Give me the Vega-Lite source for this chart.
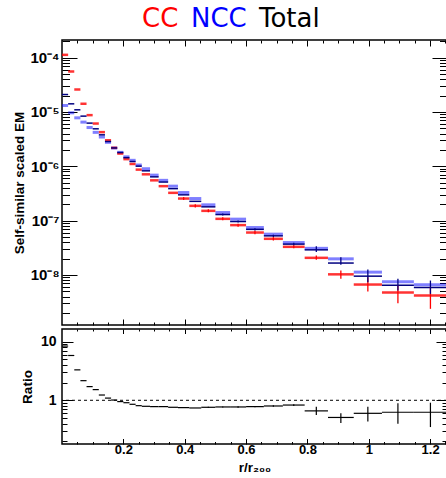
{
  "$schema": "https://vega.github.io/schema/vega-lite/v6.json",
  "padding": {"left": 11, "top": 6, "right": 0, "bottom": 0},
  "background": "white",
  "spacing": 0,
  "config": {
    "view": {"stroke": "black", "strokeWidth": 1.5},
    "axis": {"grid": false, "domain": false, "labelFont": "Liberation Sans", "labelFontWeight": "bold", "labelFontSize": 13, "labelColor": "black", "titleFont": "Liberation Sans", "titleFontWeight": "bold", "titleFontSize": 13.5, "titleColor": "black", "tickColor": "black", "tickWidth": 1, "labelOverlap": false, "labelFlush": false}
  },
  "datasets": {
    "hist": [
      {"bin":1,"x0":0,"x1":0.02,"xc":0.01,"series":"CC","v":1.12e-4},
      {"bin":2,"x0":0.02,"x1":0.04,"xc":0.03,"series":"CC","v":5.53e-5},
      {"bin":3,"x0":0.04,"x1":0.06,"xc":0.05,"series":"CC","v":2.58e-5},
      {"bin":4,"x0":0.06,"x1":0.08,"xc":0.07,"series":"CC","v":1.41e-5},
      {"bin":5,"x0":0.08,"x1":0.1,"xc":0.09,"series":"CC","v":8.71e-6},
      {"bin":6,"x0":0.1,"x1":0.12,"xc":0.11,"series":"CC","v":6.10e-6},
      {"bin":7,"x0":0.12,"x1":0.14,"xc":0.13,"series":"CC","v":4.24e-6},
      {"bin":8,"x0":0.14,"x1":0.16,"xc":0.15,"series":"CC","v":3.00e-6},
      {"bin":9,"x0":0.16,"x1":0.18,"xc":0.17,"series":"CC","v":2.18e-6},
      {"bin":10,"x0":0.18,"x1":0.2,"xc":0.19,"series":"CC","v":1.71e-6},
      {"bin":11,"x0":0.2,"x1":0.22,"xc":0.21,"series":"CC","v":1.35e-6},
      {"bin":12,"x0":0.22,"x1":0.24,"xc":0.23,"series":"CC","v":1.10e-6},
      {"bin":13,"x0":0.24,"x1":0.26,"xc":0.25,"series":"CC","v":8.66e-7},
      {"bin":14,"x0":0.26,"x1":0.287,"xc":0.2735,"series":"CC","v":7.10e-7},
      {"bin":15,"x0":0.287,"x1":0.315,"xc":0.301,"series":"CC","v":5.50e-7},
      {"bin":16,"x0":0.315,"x1":0.346,"xc":0.3305,"series":"CC","v":4.30e-7},
      {"bin":17,"x0":0.346,"x1":0.378,"xc":0.362,"series":"CC","v":3.24e-7},
      {"bin":18,"x0":0.378,"x1":0.415,"xc":0.3965,"series":"CC","v":2.545e-7,"lo":2.39e-7,"hi":2.71e-7},
      {"bin":19,"x0":0.415,"x1":0.454,"xc":0.4345,"series":"CC","v":1.868e-7,"lo":1.75e-7,"hi":1.99e-7},
      {"bin":20,"x0":0.454,"x1":0.5,"xc":0.477,"series":"CC","v":1.511e-7,"lo":1.42e-7,"hi":1.61e-7},
      {"bin":21,"x0":0.5,"x1":0.548,"xc":0.524,"series":"CC","v":1.077e-7,"lo":1.01e-7,"hi":1.15e-7},
      {"bin":22,"x0":0.548,"x1":0.6,"xc":0.574,"series":"CC","v":8.25e-8,"lo":7.74e-8,"hi":8.79e-8},
      {"bin":23,"x0":0.6,"x1":0.658,"xc":0.629,"series":"CC","v":6.03e-8,"lo":5.6e-8,"hi":6.5e-8},
      {"bin":24,"x0":0.658,"x1":0.72,"xc":0.689,"series":"CC","v":4.62e-8,"lo":4.3e-8,"hi":4.96e-8},
      {"bin":25,"x0":0.72,"x1":0.791,"xc":0.7555,"series":"CC","v":3.29e-8,"lo":3.09e-8,"hi":3.50e-8},
      {"bin":26,"x0":0.791,"x1":0.867,"xc":0.829,"series":"CC","v":2.064e-8,"lo":1.90e-8,"hi":2.28e-8},
      {"bin":27,"x0":0.867,"x1":0.951,"xc":0.909,"series":"CC","v":1.026e-8,"lo":8.48e-9,"hi":1.205e-8},
      {"bin":28,"x0":0.951,"x1":1.043,"xc":0.997,"series":"CC","v":6.66e-9,"lo":4.95e-9,"hi":9.11e-9},
      {"bin":29,"x0":1.043,"x1":1.147,"xc":1.095,"series":"CC","v":4.75e-9,"lo":3.03e-9,"hi":6.38e-9},
      {"bin":30,"x0":1.147,"x1":1.255,"xc":1.201,"series":"CC","v":4.18e-9,"lo":2.38e-9,"hi":5.96e-9},
      {"bin":1,"x0":0,"x1":0.02,"xc":0.01,"series":"NCC","v":1.309e-5},
      {"bin":2,"x0":0.02,"x1":0.04,"xc":0.03,"series":"NCC","v":9.61e-6},
      {"bin":3,"x0":0.04,"x1":0.06,"xc":0.05,"series":"NCC","v":7.77e-6},
      {"bin":4,"x0":0.06,"x1":0.08,"xc":0.07,"series":"NCC","v":6.48e-6},
      {"bin":5,"x0":0.08,"x1":0.1,"xc":0.09,"series":"NCC","v":5.15e-6},
      {"bin":6,"x0":0.1,"x1":0.12,"xc":0.11,"series":"NCC","v":4.20e-6},
      {"bin":7,"x0":0.12,"x1":0.14,"xc":0.13,"series":"NCC","v":3.446e-6},
      {"bin":8,"x0":0.14,"x1":0.16,"xc":0.15,"series":"NCC","v":2.752e-6},
      {"bin":9,"x0":0.16,"x1":0.18,"xc":0.17,"series":"NCC","v":2.162e-6},
      {"bin":10,"x0":0.18,"x1":0.2,"xc":0.19,"series":"NCC","v":1.801e-6},
      {"bin":11,"x0":0.2,"x1":0.22,"xc":0.21,"series":"NCC","v":1.489e-6},
      {"bin":12,"x0":0.22,"x1":0.24,"xc":0.23,"series":"NCC","v":1.284e-6},
      {"bin":13,"x0":0.24,"x1":0.26,"xc":0.25,"series":"NCC","v":1.052e-6},
      {"bin":14,"x0":0.26,"x1":0.287,"xc":0.2735,"series":"NCC","v":8.99e-7},
      {"bin":15,"x0":0.287,"x1":0.315,"xc":0.301,"series":"NCC","v":6.86e-7},
      {"bin":16,"x0":0.315,"x1":0.346,"xc":0.3305,"series":"NCC","v":5.50e-7},
      {"bin":17,"x0":0.346,"x1":0.378,"xc":0.362,"series":"NCC","v":4.30e-7},
      {"bin":18,"x0":0.378,"x1":0.415,"xc":0.3965,"series":"NCC","v":3.28e-7},
      {"bin":19,"x0":0.415,"x1":0.454,"xc":0.4345,"series":"NCC","v":2.545e-7},
      {"bin":20,"x0":0.454,"x1":0.5,"xc":0.477,"series":"NCC","v":1.949e-7},
      {"bin":21,"x0":0.5,"x1":0.548,"xc":0.524,"series":"NCC","v":1.406e-7},
      {"bin":22,"x0":0.548,"x1":0.6,"xc":0.574,"series":"NCC","v":1.063e-7},
      {"bin":23,"x0":0.6,"x1":0.658,"xc":0.629,"series":"NCC","v":7.45e-8},
      {"bin":24,"x0":0.658,"x1":0.72,"xc":0.689,"series":"NCC","v":5.63e-8},
      {"bin":25,"x0":0.72,"x1":0.791,"xc":0.7555,"series":"NCC","v":3.945e-8},
      {"bin":26,"x0":0.791,"x1":0.867,"xc":0.829,"series":"NCC","v":3.087e-8},
      {"bin":27,"x0":0.867,"x1":0.951,"xc":0.909,"series":"NCC","v":1.978e-8},
      {"bin":28,"x0":0.951,"x1":1.043,"xc":0.997,"series":"NCC","v":1.126e-8},
      {"bin":29,"x0":1.043,"x1":1.147,"xc":1.095,"series":"NCC","v":7.46e-9},
      {"bin":30,"x0":1.147,"x1":1.255,"xc":1.201,"series":"NCC","v":6.57e-9},
      {"bin":1,"x0":0,"x1":0.02,"xc":0.01,"series":"Total","v":2.085e-5},
      {"bin":2,"x0":0.02,"x1":0.04,"xc":0.03,"series":"Total","v":1.406e-5},
      {"bin":3,"x0":0.04,"x1":0.06,"xc":0.05,"series":"Total","v":1.091e-5},
      {"bin":4,"x0":0.06,"x1":0.08,"xc":0.07,"series":"Total","v":8.35e-6},
      {"bin":5,"x0":0.08,"x1":0.1,"xc":0.09,"series":"Total","v":6.21e-6},
      {"bin":6,"x0":0.1,"x1":0.12,"xc":0.11,"series":"Total","v":4.88e-6},
      {"bin":7,"x0":0.12,"x1":0.14,"xc":0.13,"series":"Total","v":3.78e-6},
      {"bin":8,"x0":0.14,"x1":0.16,"xc":0.15,"series":"Total","v":2.847e-6},
      {"bin":9,"x0":0.16,"x1":0.18,"xc":0.17,"series":"Total","v":2.171e-6},
      {"bin":10,"x0":0.18,"x1":0.2,"xc":0.19,"series":"Total","v":1.787e-6},
      {"bin":11,"x0":0.2,"x1":0.22,"xc":0.21,"series":"Total","v":1.439e-6},
      {"bin":12,"x0":0.22,"x1":0.24,"xc":0.23,"series":"Total","v":1.221e-6},
      {"bin":13,"x0":0.24,"x1":0.26,"xc":0.25,"series":"Total","v":1.004e-6},
      {"bin":14,"x0":0.26,"x1":0.287,"xc":0.2735,"series":"Total","v":8.23e-7},
      {"bin":15,"x0":0.287,"x1":0.315,"xc":0.301,"series":"Total","v":6.38e-7},
      {"bin":16,"x0":0.315,"x1":0.346,"xc":0.3305,"series":"Total","v":5.12e-7},
      {"bin":17,"x0":0.346,"x1":0.378,"xc":0.362,"series":"Total","v":3.87e-7},
      {"bin":18,"x0":0.378,"x1":0.415,"xc":0.3965,"series":"Total","v":2.977e-7},
      {"bin":19,"x0":0.415,"x1":0.454,"xc":0.4345,"series":"Total","v":2.26e-7},
      {"bin":20,"x0":0.454,"x1":0.5,"xc":0.477,"series":"Total","v":1.791e-7},
      {"bin":21,"x0":0.5,"x1":0.548,"xc":0.524,"series":"Total","v":1.292e-7,"lo":1.24e-7,"hi":1.35e-7},
      {"bin":22,"x0":0.548,"x1":0.6,"xc":0.574,"series":"Total","v":9.61e-8,"lo":9.2e-8,"hi":1.0e-7},
      {"bin":23,"x0":0.6,"x1":0.658,"xc":0.629,"series":"Total","v":6.90e-8,"lo":6.6e-8,"hi":7.2e-8},
      {"bin":24,"x0":0.658,"x1":0.72,"xc":0.689,"series":"Total","v":5.24e-8,"lo":5.0e-8,"hi":5.5e-8},
      {"bin":25,"x0":0.72,"x1":0.791,"xc":0.7555,"series":"Total","v":3.69e-8,"lo":3.5e-8,"hi":3.9e-8},
      {"bin":26,"x0":0.791,"x1":0.867,"xc":0.829,"series":"Total","v":2.896e-8,"lo":2.63e-8,"hi":3.39e-8},
      {"bin":27,"x0":0.867,"x1":0.951,"xc":0.909,"series":"Total","v":1.655e-8,"lo":1.534e-8,"hi":2.126e-8},
      {"bin":28,"x0":0.951,"x1":1.043,"xc":0.997,"series":"Total","v":9.50e-9,"lo":7.37e-9,"hi":1.258e-8},
      {"bin":29,"x0":1.043,"x1":1.147,"xc":1.095,"series":"Total","v":6.49e-9,"lo":5.16e-9,"hi":8.48e-9},
      {"bin":30,"x0":1.147,"x1":1.255,"xc":1.201,"series":"Total","v":5.86e-9,"lo":4.49e-9,"hi":7.89e-9}
    ],
    "ratio": [
      {"bin":1,"x0":0,"x1":0.02,"xc":0.01,"r":8.4},
      {"bin":2,"x0":0.02,"x1":0.04,"xc":0.03,"r":5.8},
      {"bin":3,"x0":0.04,"x1":0.06,"xc":0.05,"r":3.3},
      {"bin":4,"x0":0.06,"x1":0.08,"xc":0.07,"r":2.16},
      {"bin":5,"x0":0.08,"x1":0.1,"xc":0.09,"r":1.71},
      {"bin":6,"x0":0.1,"x1":0.12,"xc":0.11,"r":1.52},
      {"bin":7,"x0":0.12,"x1":0.14,"xc":0.13,"r":1.23},
      {"bin":8,"x0":0.14,"x1":0.16,"xc":0.15,"r":1.09},
      {"bin":9,"x0":0.16,"x1":0.18,"xc":0.17,"r":1.01},
      {"bin":10,"x0":0.18,"x1":0.2,"xc":0.19,"r":0.95},
      {"bin":11,"x0":0.2,"x1":0.22,"xc":0.21,"r":0.91},
      {"bin":12,"x0":0.22,"x1":0.24,"xc":0.23,"r":0.855},
      {"bin":13,"x0":0.24,"x1":0.26,"xc":0.25,"r":0.81},
      {"bin":14,"x0":0.26,"x1":0.287,"xc":0.2735,"r":0.79},
      {"bin":15,"x0":0.287,"x1":0.315,"xc":0.301,"r":0.78},
      {"bin":16,"x0":0.315,"x1":0.346,"xc":0.3305,"r":0.78},
      {"bin":17,"x0":0.346,"x1":0.378,"xc":0.362,"r":0.76},
      {"bin":18,"x0":0.378,"x1":0.415,"xc":0.3965,"r":0.75},
      {"bin":19,"x0":0.415,"x1":0.454,"xc":0.4345,"r":0.74},
      {"bin":20,"x0":0.454,"x1":0.5,"xc":0.477,"r":0.76,"rlo":0.745,"rhi":0.775},
      {"bin":21,"x0":0.5,"x1":0.548,"xc":0.524,"r":0.77,"rlo":0.755,"rhi":0.785},
      {"bin":22,"x0":0.548,"x1":0.6,"xc":0.574,"r":0.77,"rlo":0.75,"rhi":0.79},
      {"bin":23,"x0":0.6,"x1":0.658,"xc":0.629,"r":0.78,"rlo":0.76,"rhi":0.80},
      {"bin":24,"x0":0.658,"x1":0.72,"xc":0.689,"r":0.80,"rlo":0.78,"rhi":0.82},
      {"bin":25,"x0":0.72,"x1":0.791,"xc":0.7555,"r":0.83,"rlo":0.80,"rhi":0.86},
      {"bin":26,"x0":0.791,"x1":0.867,"xc":0.829,"r":0.66,"rlo":0.56,"rhi":0.78},
      {"bin":27,"x0":0.867,"x1":0.951,"xc":0.909,"r":0.51,"rlo":0.41,"rhi":0.60},
      {"bin":28,"x0":0.951,"x1":1.043,"xc":0.997,"r":0.60,"rlo":0.435,"rhi":0.78},
      {"bin":29,"x0":1.043,"x1":1.147,"xc":1.095,"r":0.625,"rlo":0.40,"rhi":0.89},
      {"bin":30,"x0":1.147,"x1":1.255,"xc":1.201,"r":0.625,"rlo":0.35,"rhi":0.91}
    ],
    "ref": [{"level": 1}]
  },
  "vconcat": [
    {
      "width": 385,
      "height": 285,
      "data": {"name": "hist"},
      "layer": [
        {
          "transform": [{"filter": "datum.series == 'NCC'"}],
          "mark": {"type": "rule", "strokeWidth": 3, "opacity": 0.5, "clip": true},
          "encoding": {
            "x": {"field": "x0", "type": "quantitative", "scale": {"domain": [0, 1.255], "nice": false, "zero": false},
                  "axis": {"orient": "bottom", "title": null, "labels": false,
                           "values": [0.05,0.1,0.15,0.2,0.25,0.3,0.35,0.4,0.45,0.5,0.55,0.6,0.65,0.7,0.75,0.8,0.85,0.9,0.95,1,1.05,1.1,1.15,1.2,1.25],
                           "tickSize": {"condition": {"test": "datum.value == 0.2 || datum.value == 0.4 || datum.value == 0.6 || datum.value == 0.8 || datum.value == 1 || datum.value == 1.2", "value": -6}, "value": -3}}},
            "x2": {"field": "x1"},
            "y": {"field": "v", "type": "quantitative", "scale": {"type": "log", "domain": [1.2e-9, 2.1e-4], "nice": false},
                  "axis": {"orient": "left", "title": "Self-similar scaled EM", "titleX": -38.5, "titleY": 142.5, "titleAngle": -90, "titleAlign": "center", "titleBaseline": "alphabetic",
                           "values": [2e-9,3e-9,4e-9,5e-9,6e-9,7e-9,8e-9,9e-9,1e-8,2e-8,3e-8,4e-8,5e-8,6e-8,7e-8,8e-8,9e-8,1e-7,2e-7,3e-7,4e-7,5e-7,6e-7,7e-7,8e-7,9e-7,1e-6,2e-6,3e-6,4e-6,5e-6,6e-6,7e-6,8e-6,9e-6,1e-5,2e-5,3e-5,4e-5,5e-5,6e-5,7e-5,8e-5,9e-5,1e-4,2e-4],
                           "labelFontSize": 15, "labelPadding": 18,
                           "labelExpr": "datum.value > 0.95e-4 && datum.value < 1.05e-4 ? '10⁻⁴' : datum.value > 0.95e-5 && datum.value < 1.05e-5 ? '10⁻⁵' : datum.value > 0.95e-6 && datum.value < 1.05e-6 ? '10⁻⁶' : datum.value > 0.95e-7 && datum.value < 1.05e-7 ? '10⁻⁷' : datum.value > 0.95e-8 && datum.value < 1.05e-8 ? '10⁻⁸' : ''",
                           "tickSize": {"condition": {"test": "abs(log(datum.value)/LN10 - round(log(datum.value)/LN10)) < 0.001", "value": -15}, "value": -7.5}}},
            "color": {"field": "series", "type": "nominal",
                      "scale": {"domain": ["CC", "NCC", "Total"], "range": ["#ff0000", "#0000ff", "#000080"]},
                      "legend": {"orient": "none", "legendX": 79, "legendY": -34, "direction": "horizontal", "title": null,
                                 "symbolType": "circle", "symbolOpacity": 0, "symbolSize": 0.01, "symbolStrokeWidth": 0, "labelOffset": -25, "columnPadding": 11, "padding": 0,
                                 "labelFont": "DejaVu Sans", "labelFontSize": 26, "labelColor": "black",
                                 "encode": {"labels": {"update": {"fill": {"signal": "datum.value === 'CC' ? '#ff0000' : datum.value === 'NCC' ? '#0000ff' : '#000000'"}}}}}}
          }
        },
        {
          "transform": [{"filter": "datum.series == 'CC'"}],
          "mark": {"type": "rule", "strokeWidth": 2.5, "opacity": 0.8, "clip": true},
          "encoding": {
            "x": {"field": "x0", "type": "quantitative",
                  "axis": {"orient": "top", "title": null, "labels": false,
                           "values": [0.05,0.1,0.15,0.2,0.25,0.3,0.35,0.4,0.45,0.5,0.55,0.6,0.65,0.7,0.75,0.8,0.85,0.9,0.95,1,1.05,1.1,1.15,1.2,1.25],
                           "tickSize": {"condition": {"test": "datum.value == 0.2 || datum.value == 0.4 || datum.value == 0.6 || datum.value == 0.8 || datum.value == 1 || datum.value == 1.2", "value": -6}, "value": -3}}},
            "x2": {"field": "x1"},
            "y": {"field": "v", "type": "quantitative",
                  "axis": {"orient": "right", "title": null, "labels": false,
                           "values": [2e-9,3e-9,4e-9,5e-9,6e-9,7e-9,8e-9,9e-9,1e-8,2e-8,3e-8,4e-8,5e-8,6e-8,7e-8,8e-8,9e-8,1e-7,2e-7,3e-7,4e-7,5e-7,6e-7,7e-7,8e-7,9e-7,1e-6,2e-6,3e-6,4e-6,5e-6,6e-6,7e-6,8e-6,9e-6,1e-5,2e-5,3e-5,4e-5,5e-5,6e-5,7e-5,8e-5,9e-5,1e-4,2e-4],
                           "tickSize": {"condition": {"test": "abs(log(datum.value)/LN10 - round(log(datum.value)/LN10)) < 0.001", "value": -15}, "value": -7.5}}},
            "color": {"field": "series", "type": "nominal"}
          }
        },
        {
          "transform": [{"filter": "datum.series == 'Total'"}],
          "mark": {"type": "rule", "strokeWidth": 1.5, "clip": true},
          "encoding": {
            "x": {"field": "x0", "type": "quantitative", "axis": null},
            "x2": {"field": "x1"},
            "y": {"field": "v", "type": "quantitative", "axis": null},
            "color": {"field": "series", "type": "nominal"}
          }
        },
        {
          "transform": [{"filter": "isValid(datum.lo)"}],
          "mark": {"type": "rule", "strokeWidth": 1.3, "clip": true},
          "encoding": {
            "x": {"field": "xc", "type": "quantitative", "axis": null},
            "y": {"field": "lo", "type": "quantitative", "axis": null},
            "y2": {"field": "hi"},
            "color": {"field": "series", "type": "nominal"}
          }
        }
      ],
      "resolve": {"axis": {"x": "independent", "y": "independent"}}
    },
    {
      "width": 385,
      "height": 115,
      "layer": [
        {
          "data": {"name": "ratio"},
          "mark": {"type": "rule", "color": "black", "strokeWidth": 1.2, "clip": true},
          "encoding": {
            "x": {"field": "x0", "type": "quantitative", "scale": {"domain": [0, 1.255], "nice": false, "zero": false},
                  "axis": {"orient": "bottom", "title": "r/r₂₀₀", "titlePadding": 1,
                           "values": [0.05,0.1,0.15,0.2,0.25,0.3,0.35,0.4,0.45,0.5,0.55,0.6,0.65,0.7,0.75,0.8,0.85,0.9,0.95,1,1.05,1.1,1.15,1.2,1.25],
                           "labelPadding": 5,
                           "labelExpr": "(datum.value == 0.2 || datum.value == 0.4 || datum.value == 0.6 || datum.value == 0.8 || datum.value == 1 || datum.value == 1.2) ? format(datum.value, '~g') : ''",
                           "tickSize": {"condition": {"test": "datum.value == 0.2 || datum.value == 0.4 || datum.value == 0.6 || datum.value == 0.8 || datum.value == 1 || datum.value == 1.2", "value": -5.5}, "value": -2.5}}},
            "x2": {"field": "x1"},
            "y": {"field": "r", "type": "quantitative", "scale": {"type": "log", "domain": [0.18, 16.4], "nice": false},
                  "axis": {"orient": "left", "title": "Ratio", "titleX": -31, "titleY": 57.5, "titleAngle": -90, "titleAlign": "center", "titleBaseline": "alphabetic",
                           "values": [0.2,0.3,0.4,0.5,0.6,0.7,0.8,0.9,1,2,3,4,5,6,7,8,9,10],
                           "labelFontSize": 14, "labelPadding": 17,
                           "labelExpr": "datum.value == 1 ? '1' : datum.value == 10 ? '10' : ''",
                           "tickSize": {"condition": {"test": "datum.value == 1 || datum.value == 10", "value": -11}, "value": -5}}}
          }
        },
        {
          "data": {"name": "ratio"},
          "transform": [{"filter": "isValid(datum.rlo)"}],
          "mark": {"type": "rule", "color": "black", "strokeWidth": 1.2, "clip": true},
          "encoding": {
            "x": {"field": "xc", "type": "quantitative",
                  "axis": {"orient": "top", "title": null, "labels": false,
                           "values": [0.05,0.1,0.15,0.2,0.25,0.3,0.35,0.4,0.45,0.5,0.55,0.6,0.65,0.7,0.75,0.8,0.85,0.9,0.95,1,1.05,1.1,1.15,1.2,1.25],
                           "tickSize": {"condition": {"test": "datum.value == 0.2 || datum.value == 0.4 || datum.value == 0.6 || datum.value == 0.8 || datum.value == 1 || datum.value == 1.2", "value": -4.5}, "value": -2}}},
            "y": {"field": "rlo", "type": "quantitative",
                  "axis": {"orient": "right", "title": null, "labels": false,
                           "values": [0.2,0.3,0.4,0.5,0.6,0.7,0.8,0.9,1,2,3,4,5,6,7,8,9,10],
                           "tickSize": {"condition": {"test": "datum.value == 1 || datum.value == 10", "value": -11}, "value": -5}}},
            "y2": {"field": "rhi"}
          }
        },
        {
          "data": {"name": "ref"},
          "mark": {"type": "rule", "color": "black", "strokeWidth": 1, "strokeDash": [3, 3]},
          "encoding": {
            "y": {"field": "level", "type": "quantitative", "axis": null}
          }
        }
      ],
      "resolve": {"axis": {"x": "independent", "y": "independent"}}
    }
  ]
}
